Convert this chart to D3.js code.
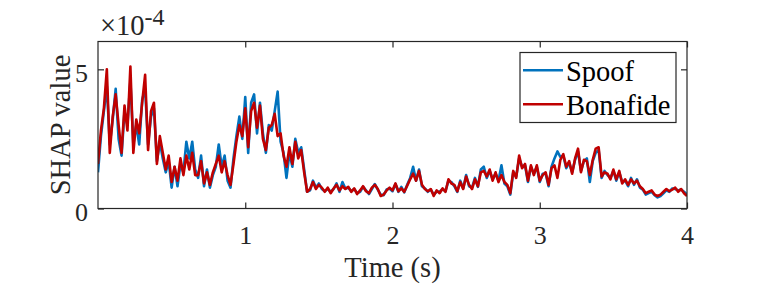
<!DOCTYPE html>
<html>
<head>
<meta charset="utf-8">
<script src="https://cdn.jsdelivr.net/npm/d3@7"></script>
<style>
body{margin:0;background:#fff;}
svg{display:block;}
svg text{font-family:"Liberation Serif","Times New Roman",serif;}
</style>
</head>
<body>
<div id="chart"></div>
<script>

// sample step in seconds, values below are in units of 1e-4
var dt = 0.02;

var spoof = [
 1.3, 2.6, 3.5, 4.4, 2.3, 3.2, 4.3, 2.5, 1.9, 3.5,
 3.0, 4.6, 2.3, 3.0, 2.3, 3.9, 4.3, 2.3, 3.3, 3.6,
 1.7, 2.4, 1.8, 1.3, 1.7, 0.75, 1.5, 0.8, 1.6, 1.3,
 2.4, 1.8, 2.4, 1.4, 1.1, 1.9, 0.8, 1.4, 0.75, 1.2,
 1.5, 2.3, 1.5, 1.9, 1.0, 0.75, 1.8, 2.6, 3.3, 2.5,
 4.0, 2.0, 3.8, 4.1, 2.7, 3.8, 2.7, 2.0, 3.0, 2.8,
 3.5, 4.2, 2.4, 2.0, 1.1, 2.0, 1.5, 2.5, 2.0, 2.2,
 1.4, 0.6, 0.65, 1.0, 0.75, 0.9, 0.7, 0.62, 0.7, 0.6,
 0.7, 0.9, 0.6, 0.95, 0.72, 0.75, 0.62, 0.7, 0.55, 0.6,
 0.78, 0.65, 0.52, 0.7, 0.88, 0.68, 0.5, 0.48, 0.68, 0.72,
 0.62, 0.88, 0.6, 0.78, 0.58, 0.85, 1.1, 1.5, 1.0, 1.4,
 0.8, 0.72, 0.6, 0.68, 0.5, 0.6, 0.6, 0.7, 0.62, 1.0,
 0.95, 0.8, 0.6, 1.0, 0.72, 1.2, 0.8, 0.75, 1.1, 0.78,
 1.4, 1.5, 1.1, 1.35, 1.05, 1.25, 1.0, 1.55, 0.9, 0.8,
 0.5, 1.3, 1.15, 1.8, 1.5, 1.55, 0.95, 1.5, 1.25, 1.5,
 0.95, 1.25, 1.25, 0.8, 1.5, 1.8, 2.05, 1.85, 1.9, 1.45,
 1.65, 1.3, 1.75, 2.05, 1.35, 1.7, 1.8, 0.95, 1.7, 2.0,
 2.1, 1.1, 1.35, 1.2, 1.1, 1.35, 1.0, 1.3, 0.95, 1.0,
 0.8, 1.1, 0.85, 1.05, 0.75, 0.68, 0.5, 0.55, 0.6, 0.48,
 0.4, 0.45, 0.55, 0.65, 0.6, 0.72, 0.7, 0.65, 0.68, 0.6, 0.5
];

var bonafide = [
 1.6, 2.8, 3.6, 5.0, 2.0, 3.3, 4.1, 3.0, 2.0, 3.7,
 2.8, 5.1, 2.0, 3.2, 2.7, 3.8, 4.8, 2.1, 3.5, 3.8,
 1.6, 2.6, 2.0, 1.4, 1.9, 0.95, 1.5, 1.0, 1.8, 1.2,
 1.9, 1.4, 2.0, 1.2, 1.2, 1.7, 0.9, 1.3, 0.85, 1.3,
 1.6, 1.9, 1.3, 1.7, 1.2, 0.85, 1.6, 2.4, 3.0, 2.6,
 3.6, 2.2, 3.5, 3.8, 2.9, 3.7, 2.5, 2.1, 2.9, 3.0,
 3.4, 2.6, 2.7, 1.9, 1.5, 2.2, 1.6, 2.4, 1.8, 2.1,
 1.3, 0.6, 0.7, 0.95, 0.7, 0.85, 0.75, 0.6, 0.75, 0.55,
 0.72, 0.85, 0.65, 0.8, 0.7, 0.78, 0.6, 0.72, 0.52, 0.65,
 0.8, 0.62, 0.55, 0.75, 0.85, 0.7, 0.45, 0.5, 0.65, 0.75,
 0.65, 0.9, 0.62, 0.72, 0.6, 0.82, 1.05, 1.25, 1.0, 1.35,
 0.85, 0.7, 0.62, 0.7, 0.45, 0.65, 0.55, 0.72, 0.6, 1.05,
 0.9, 0.85, 0.62, 0.95, 0.7, 1.15, 0.85, 0.7, 1.05, 0.8,
 1.3, 1.35, 1.15, 1.4, 1.0, 1.3, 0.95, 1.2, 0.95, 0.85,
 0.55, 1.35, 1.1, 1.9, 1.45, 1.6, 1.0, 1.55, 1.2, 1.55,
 1.0, 1.2, 1.3, 0.85, 1.45, 1.55, 1.1, 1.75, 1.95, 1.5,
 1.7, 1.25, 1.8, 2.15, 1.3, 1.75, 1.7, 1.2, 1.75, 2.15,
 2.2, 1.15, 1.3, 1.25, 1.05, 1.4, 1.05, 1.35, 0.9, 1.05,
 0.85, 1.05, 0.9, 1.0, 0.8, 0.7, 0.55, 0.6, 0.65, 0.5,
 0.45, 0.5, 0.6, 0.7, 0.62, 0.68, 0.75, 0.6, 0.7, 0.55, 0.45
];

var xTicks = [1, 2, 3, 4];
var yTicks = [0, 5];
var seriesNames = ["Spoof", "Bonafide"];
var seriesColors = ["#0072BD", "#C00000"];

function DrawPlot(){
    var margin = {top:41.5,right:73,bottom:76.5,left:98};
    var width = 589;
    var height = 167;
    var axisColor = "#262626";

    var xScale = d3.scaleLinear().domain([0,4]).range([0,width]);
    var yScale = d3.scaleLinear().domain([0,6]).range([height,0]);

    var svg = d3.select("#chart").append("svg")
        .attr("width", width + margin.left + margin.right)
        .attr("height", height + margin.top + margin.bottom);

    var g = svg.append("g")
        .attr("transform","translate("+margin.left+","+margin.top+")");

    g.append("clipPath").attr("id","clip")
        .append("rect").attr("width",width).attr("height",height);

    var line = d3.line()
        .x(function(d,i){ return xScale(i*dt); })
        .y(function(d){ return yScale(d); });

    [spoof, bonafide].forEach(function(s,k){
        g.append("path")
            .datum(s)
            .attr("clip-path","url(#clip)")
            .attr("fill","none")
            .attr("stroke",seriesColors[k])
            .attr("stroke-width",2.6)
            .attr("stroke-linejoin","round")
            .attr("d",line);
    });

    // axes, ticks pointing inward like matlab
    var fmt = d3.format("d");
    g.append("g")
        .attr("transform","translate(0,"+height+")")
        .call(d3.axisBottom(xScale).tickValues(xTicks).tickSize(-6).tickPadding(17).tickFormat(fmt));
    g.append("g")
        .call(d3.axisTop(xScale).tickValues(xTicks).tickSize(-6).tickFormat(""));
    var yAxis = g.append("g")
        .call(d3.axisLeft(yScale).tickValues(yTicks).tickSize(-6).tickPadding(10).tickFormat(fmt));
    g.append("g")
        .attr("transform","translate("+width+",0)")
        .call(d3.axisRight(yScale).tickValues(yTicks).tickSize(-6).tickFormat(""));

    g.selectAll(".domain").remove();
    g.selectAll(".tick line").attr("stroke",axisColor).attr("stroke-width",1.2);
    g.selectAll(".tick text")
        .attr("fill",axisColor)
        .attr("font-family","Liberation Serif")
        .attr("font-size",26);
    yAxis.selectAll(".tick text").attr("dy","0.45em");

    g.append("rect")
        .attr("width",width).attr("height",height)
        .attr("fill","none")
        .attr("stroke",axisColor)
        .attr("stroke-width",1.2);

    // exponent label
    var expo = svg.append("text")
        .attr("x",100).attr("y",35)
        .attr("fill",axisColor)
        .attr("font-size",28.5);
    expo.append("tspan").text("\u00d710");
    expo.append("tspan").attr("dy",-10).attr("font-size",24).text("-4");

    svg.append("text")
        .attr("x",margin.left + width/2)
        .attr("y",277)
        .attr("text-anchor","middle")
        .attr("fill",axisColor)
        .attr("font-size",28.5)
        .text("Time (s)");

    svg.append("text")
        .attr("transform","translate(70,"+(margin.top+height/2)+") rotate(-90)")
        .attr("text-anchor","middle")
        .attr("fill",axisColor)
        .attr("font-size",28.5)
        .text("SHAP value");

    // legend
    var leg = svg.append("g");
    leg.append("rect")
        .attr("x",520).attr("y",52.5)
        .attr("width",156).attr("height",70)
        .attr("fill","#fff")
        .attr("stroke",axisColor)
        .attr("stroke-width",1.2);
    var rows = [70.3, 104.3];
    seriesNames.forEach(function(name,k){
        leg.append("line")
            .attr("x1",523).attr("x2",563)
            .attr("y1",rows[k]).attr("y2",rows[k])
            .attr("stroke",seriesColors[k])
            .attr("stroke-width",2.6);
        leg.append("text")
            .attr("x",566).attr("y",rows[k]+11)
            .attr("fill","#000")
            .attr("font-size",28.5)
            .text(name);
    });
}

DrawPlot();
</script>
</body>
</html>
